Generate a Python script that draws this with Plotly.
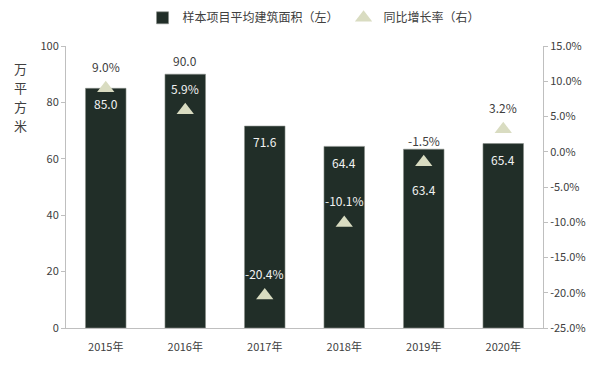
import plotly.graph_objects as go

categories = ["2015年", "2016年", "2017年", "2018年", "2019年", "2020年"]
area_values = [85.0, 90.0, 71.6, 64.4, 63.4, 65.4]
growth_pct = [9.0, 5.9, -20.4, -10.1, -1.5, 3.2]
left_ticks = [0, 20, 40, 60, 80, 100]
right_tickvals = [15, 10, 5, 0, -5, -10, -15, -20, -25]
right_ticktext = ["15.0%", "10.0%", "5.0%", "0.0%", "-5.0%", "-10.0%", "-15.0%", "-20.0%", "-25.0%"]
unit_chars = ["万", "平", "方", "米"]

# label offsets (pixels) relative to bar tops
bar_label_shift = [-15, 14, -15, -16, -40, -16]
pct_label_shift = 22

BAR = "#212e28"
TRI = "#d9dcc1"
TXT = "#404040"
FONT = "Noto Sans CJK SC"

fig = go.Figure()
fig.add_trace(go.Bar(
    x=categories, y=area_values, name="样本项目平均建筑面积（左）",
    marker=dict(color=BAR, line=dict(color="#8a8f8a", width=0.6)),
    width=0.51, yaxis="y",
))
fig.add_trace(go.Scatter(
    x=categories, y=growth_pct, name="同比增长率（右）", mode="markers",
    marker=dict(symbol="triangle-up", size=15, color=TRI),
    yaxis="y2",
))

ann = []
for c, v, s in zip(categories, area_values, bar_label_shift):
    ann.append(dict(x=c, y=v, xref="x", yref="y", yshift=s, text=f"{v:.1f}",
                    showarrow=False, font=dict(size=12, color="#f2f2f2" if s < 0 else TXT)))
for c, p, v in zip(categories, growth_pct, area_values):
    left_equiv = (p + 25) / 40 * 100 + pct_label_shift / 2.82
    inside = left_equiv < v
    ann.append(dict(x=c, y=p, xref="x", yref="y2", yshift=pct_label_shift, text=f"{p:.1f}%",
                    showarrow=False, font=dict(size=12, color="#f2f2f2" if inside else TXT)))
for i, ch in enumerate(unit_chars):
    ann.append(dict(x=-0.113, y=0.96, xref="paper", yref="paper", yshift=-19 * i, text=ch,
                    showarrow=False, font=dict(size=13, color=TXT)))

fig.update_layout(
    width=600, height=371,
    margin=dict(l=66, r=57, t=46, b=43, autoexpand=False),
    paper_bgcolor="white", plot_bgcolor="white",
    font=dict(family=FONT, size=11, color=TXT),
    showlegend=True,
    legend=dict(orientation="h", x=0.52, xanchor="center", y=1.1, yanchor="middle",
                font=dict(size=12, color=TXT), itemwidth=30, traceorder="normal"),
    xaxis=dict(showline=True, linecolor="#bfbfbf", linewidth=1, ticks="outside", ticklen=9,
               tickcolor="rgba(0,0,0,0)", showgrid=False,
               tickfont=dict(size=11, color=TXT)),
    yaxis=dict(range=[0, 100], tickvals=left_ticks, showgrid=False, zeroline=False,
               showline=True, linecolor="#bfbfbf", ticks="outside", ticklen=4,
               tickcolor="#bfbfbf", tickfont=dict(size=11, color=TXT)),
    yaxis2=dict(range=[-25, 15], overlaying="y", side="right", tickvals=right_tickvals,
                ticktext=right_ticktext, showgrid=False, zeroline=False, showline=True,
                linecolor="#bfbfbf", ticks="outside", ticklen=4, tickcolor="#bfbfbf",
                tickfont=dict(size=11, color=TXT)),
    annotations=ann,
)

fig.write_html("out.html", config={"displayModeBar": False},
               post_script="document.body.style.margin='0';document.body.style.overflow='hidden';")
